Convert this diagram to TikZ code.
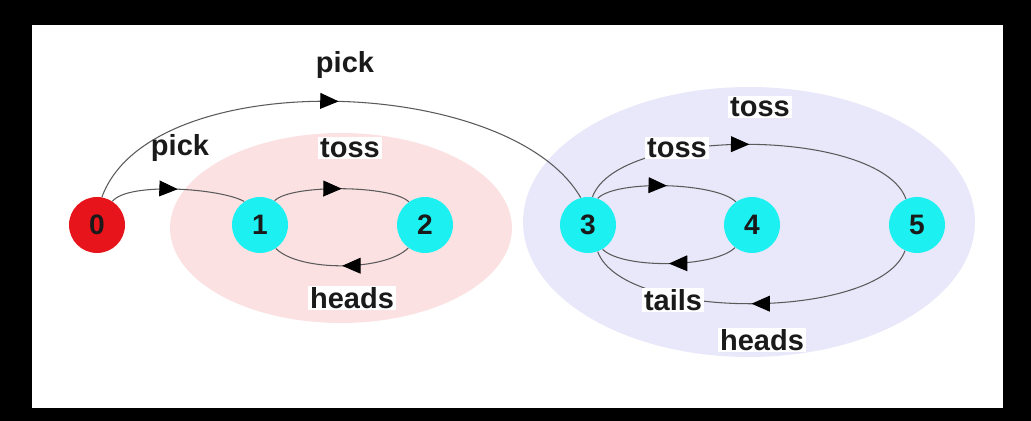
\documentclass[tikz,border=0pt]{standalone}
\usepackage{fontspec}
\setmainfont{Liberation Sans}
\usetikzlibrary{arrows.meta,decorations.markings}
\definecolor{pinkfill}{HTML}{FCE1E3}
\definecolor{lavfill}{HTML}{E9E7FA}
\definecolor{redst}{HTML}{E8141C}
\definecolor{cyanst}{HTML}{1CF0F0}
\definecolor{edgecol}{HTML}{5A5A5A}
\definecolor{txtcol}{HTML}{1A1A1A}
\tikzset{
  state/.style={circle,minimum size=1.12cm,inner sep=0pt,fill=cyanst,
    font=\fontsize{16}{16}\selectfont\bfseries,text=txtcol},
  startstate/.style={state,fill=redst},
  lbl/.style={font=\fontsize{16.5}{16.5}\selectfont\bfseries,text=txtcol,inner sep=1pt},
  lblw/.style={lbl,fill=white},
  trans/.style={draw=edgecol,line width=0.6pt,postaction={decorate},
    decoration={markings,mark=at position 0.5 with {\arrow[black]{Triangle[length=10.5pt,width=9pt]}}}}
}
\begin{document}
\begin{tikzpicture}[x=0.02cm,y=0.02cm]
\fill[black] (0,0) rectangle (1031,421);
\useasboundingbox (0,0) rectangle (1031,421);
\fill[white] (32,13) rectangle (1003,396);
\fill[pinkfill] (341,193) ellipse [x radius=3.42cm,y radius=1.9cm];
\fill[lavfill] (749,199) ellipse [x radius=4.52cm,y radius=2.7cm];
\node[startstate] (n0) at (97,196) {0};
\node[state] (n1) at (260,196) {1};
\node[state] (n2) at (425,196) {2};
\node[state] (n3) at (588,196) {3};
\node[state] (n4) at (752,196) {4};
\node[state] (n5) at (917,196) {5};
\draw[trans] (n0.57) to[out=50,in=150,looseness=0.5] (n1.124);
\draw[trans] (n0.80) to[out=70,in=120,looseness=0.76] (n3.105);
\draw[trans] (n1.59) to[out=45,in=135,looseness=0.45] (n2.125);
\draw[trans] (n2.-126) to[out=-135,in=-45,looseness=0.64] (n1.-56);
\draw[trans] (n3.70) to[out=45,in=135,looseness=0.5] (n4.125);
\draw[trans] (n3.81) to[out=70,in=110,looseness=0.62] (n5.113);
\draw[trans] (n4.-127) to[out=-135,in=-45,looseness=0.55] (n3.-59);
\draw[trans] (n5.-115) to[out=-110,in=-70,looseness=0.62] (n3.-70);
\node[lbl] (l1) at (345,356) {pick};
\node[lbl] (l2) at (180,273) {pick};
\node[lblw] (l3) at (350,273) {toss};
\node[lblw] (l4) at (352,123) {heads};
\node[lblw] (l5) at (760,314) {toss};
\node[lblw] (l6) at (677,273) {toss};
\node[lblw] (l7) at (673,121) {tails};
\node[lblw] (l8) at (762,81) {heads};
\end{tikzpicture}
\end{document}
